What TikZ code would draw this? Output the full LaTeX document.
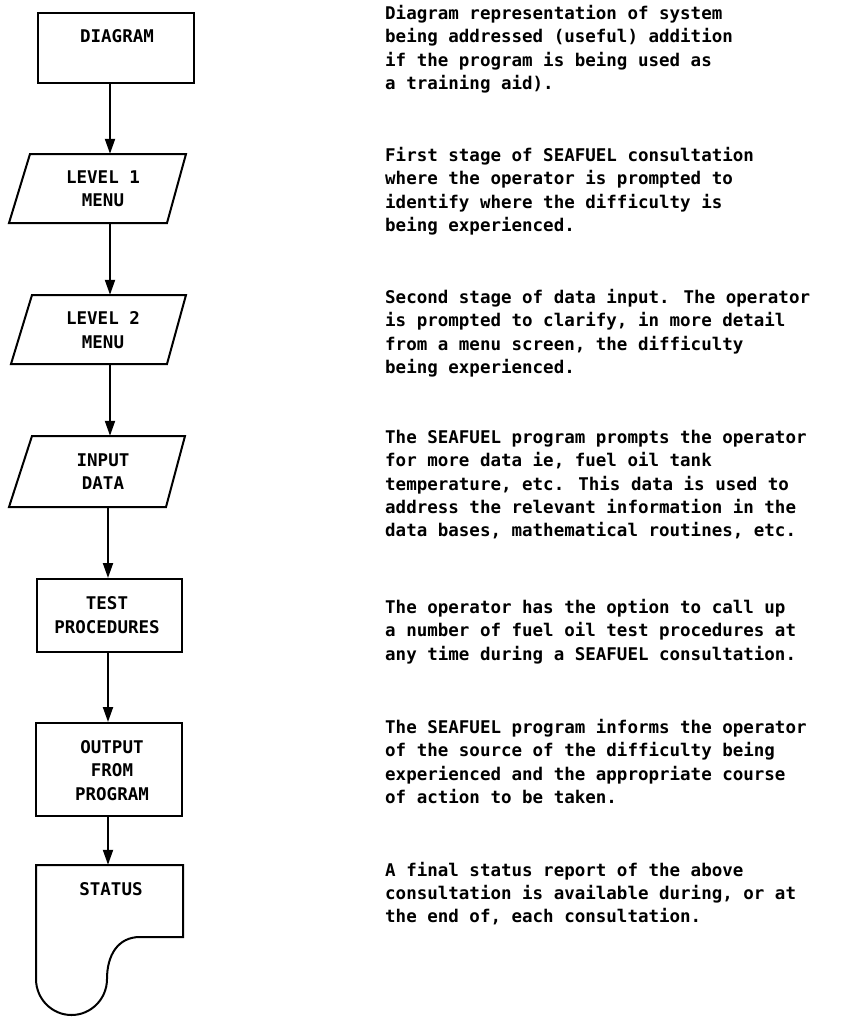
\documentclass[tikz,border=0pt]{standalone}
\usepackage{fontspec}
\usetikzlibrary{arrows.meta}
\newfontfamily\monof{DejaVu Sans Mono}
\begin{document}
\begin{tikzpicture}[x=1pt,y=-1pt,
  shapeline/.style={line width=2pt,line join=miter},
  boxnode/.style={draw,line width=2pt,inner sep=0pt},
  ghost/.style={draw=none,inner sep=0pt},
  lbl/.style={font={\monof\bfseries\fontsize{17.5}{23.4}\selectfont},align=center,inner sep=0pt},
  desc/.style={font={\monof\bfseries\fontsize{17.5}{23.4}\selectfont},anchor=base west,inner sep=0pt},
  arr/.style={line width=2pt,-{Triangle[length=15pt,width=10pt]}}]
\useasboundingbox (0,0) rectangle (843,1018);
% connector x positions
\coordinate (ax1) at (110,0);
\coordinate (ax2) at (108,0);
% DIAGRAM box
\node[boxnode,minimum width=156pt,minimum height=70pt] (diag) at (116,48) {};
\node[lbl] (tdiag) at (117,36) {DIAGRAM};
% LEVEL 1
\node[ghost,minimum width=177pt,minimum height=69pt] (l1) at (97.5,188.5) {};
\draw[shapeline] (30,154) -- (186,154) -- (167,223) -- (9,223) -- cycle;
\node[lbl] (tl1) at (103,188.5) {LEVEL 1\\MENU};
% LEVEL 2
\node[ghost,minimum width=177pt,minimum height=69pt] (l2) at (98,329.5) {};
\draw[shapeline] (32,295) -- (186,295) -- (167,364) -- (11,364) -- cycle;
\node[lbl] (tl2) at (103,330) {LEVEL 2\\MENU};
% INPUT DATA
\node[ghost,minimum width=176pt,minimum height=71pt] (inp) at (97,471.5) {};
\draw[shapeline] (32,436) -- (185,436) -- (166,507) -- (9,507) -- cycle;
\node[lbl] (tinp) at (103,471.5) {INPUT\\DATA};
% TEST PROCEDURES
\node[boxnode,minimum width=145pt,minimum height=73pt] (test) at (109.5,615.5) {};
\node[lbl] (ttest) at (107,615) {TEST\\PROCEDURES};
% OUTPUT
\node[boxnode,minimum width=146pt,minimum height=93pt] (out) at (109,769.5) {};
\node[lbl] (tout) at (112,770.5) {OUTPUT\\FROM\\PROGRAM};
% STATUS
\node[ghost,minimum width=147pt,minimum height=72pt] (status) at (109.5,901) {};
\draw[shapeline] (36,865) -- (183,865) -- (183,937) -- (140,937)
  .. controls (118,937) and (107,955) .. (107,979)
  .. controls (107,999) and (91,1015) .. (71.5,1015)
  .. controls (52,1015) and (36,999) .. (36,979) -- cycle;
\node[lbl] (tstat) at (111,889) {STATUS};
% connectors
\draw[arr] (diag.south -| ax1) -- (l1.north -| ax1);
\draw[arr] (l1.south -| ax1) -- (l2.north -| ax1);
\draw[arr] (l2.south -| ax1) -- (inp.north -| ax1);
\draw[arr] (inp.south -| ax2) -- (test.north -| ax2);
\draw[arr] (test.south -| ax2) -- (out.north -| ax2);
\draw[arr] (out.south -| ax2) -- (status.north -| ax2);
% descriptions
\node[desc] (d1) at (385,19.5) {\begin{tabular}[t]{@{}l@{}}Diagram representation of system\\being addressed (useful) addition\\if the program is being used as\\a training aid).\end{tabular}};
\node[desc] (d2) at (385,161.5) {\begin{tabular}[t]{@{}l@{}}First stage of SEAFUEL consultation\\where the operator is prompted to\\identify where the difficulty is\\being experienced.\end{tabular}};
\node[desc] (d3) at (385,303.3) {\begin{tabular}[t]{@{}l@{}}Second stage of data input. The operator\\is prompted to clarify, in more detail\\from a menu screen, the difficulty\\being experienced.\end{tabular}};
\node[desc] (d4) at (385,443.3) {\begin{tabular}[t]{@{}l@{}}The SEAFUEL program prompts the operator\\for more data ie, fuel oil tank\\temperature, etc. This data is used to\\address the relevant information in the\\data bases, mathematical routines, etc.\end{tabular}};
\node[desc] (d5) at (385,613.3) {\begin{tabular}[t]{@{}l@{}}The operator has the option to call up\\a number of fuel oil test procedures at\\any time during a SEAFUEL consultation.\end{tabular}};
\node[desc] (d6) at (385,733.3) {\begin{tabular}[t]{@{}l@{}}The SEAFUEL program informs the operator\\of the source of the difficulty being\\experienced and the appropriate course\\of action to be taken.\end{tabular}};
\node[desc] (d7) at (385,876) {\begin{tabular}[t]{@{}l@{}}A final status report of the above\\consultation is available during, or at\\the end of, each consultation.\end{tabular}};
\end{tikzpicture}
\end{document}
